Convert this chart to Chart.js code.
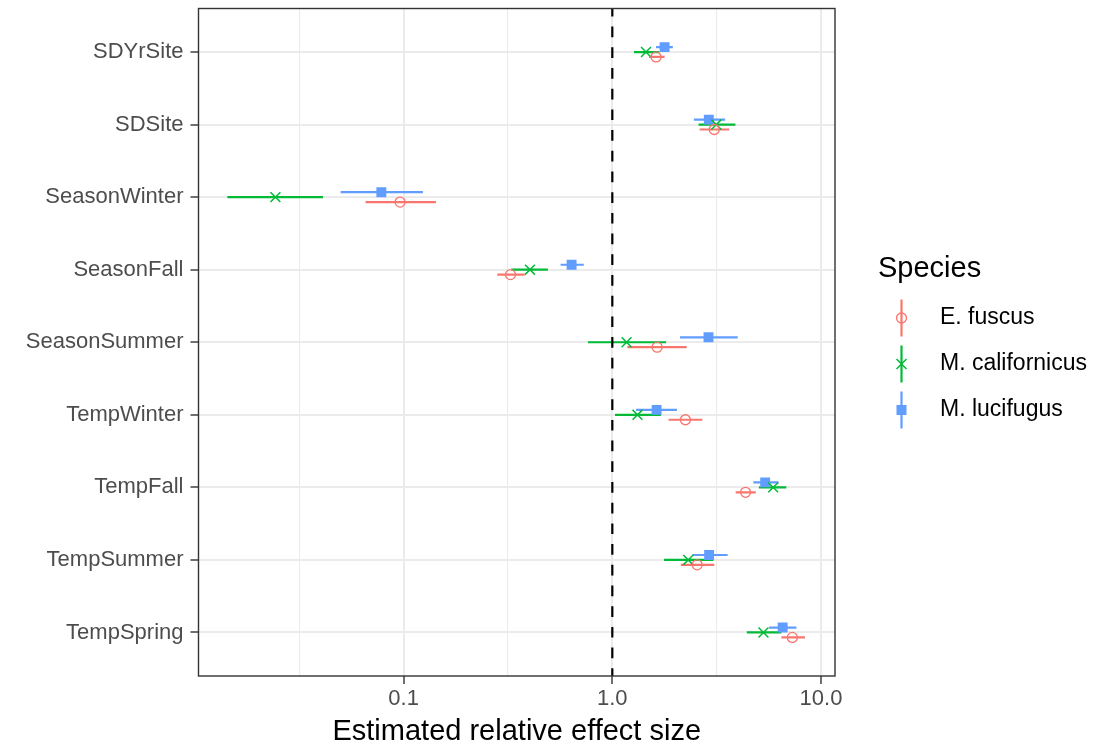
<!DOCTYPE html>
<html>
<head>
<meta charset="utf-8">
<script src="https://cdn.jsdelivr.net/npm/chart.js@4.4.1/dist/chart.umd.min.js"></script>
<style>
  html, body { margin: 0; padding: 0; background: #fff; }
  #wrap { width: 1106px; height: 746px; position: relative; }
</style>
</head>
<body>
<div id="wrap"><canvas id="chart"></canvas></div>
<script>
// effect sizes (log scale)
const categories = ["SDYrSite", "SDSite", "SeasonWinter", "SeasonFall", "SeasonSummer",
  "TempWinter", "TempFall", "TempSummer", "TempSpring"];

const speciesNames = ["E. fuscus", "M. californicus", "M. lucifugus"];

const fuscusEst = [1.62, 3.08, 0.0962, 0.325, 1.64, 2.24, 4.35, 2.55, 7.29];
const fuscusLo  = [1.50, 2.62, 0.0657, 0.281, 1.18, 1.86, 3.90, 2.13, 6.46];
const fuscusHi  = [1.78, 3.63, 0.1428, 0.380, 2.27, 2.70, 4.87, 3.08, 8.38];

const californicusEst = [1.45, 3.15, 0.0243, 0.403, 1.17, 1.32, 5.90, 2.31, 5.30];
const californicusLo  = [1.27, 2.59, 0.0143, 0.328, 0.764, 1.03, 5.04, 1.77, 4.41];
const californicusHi  = [1.68, 3.89, 0.0411, 0.491, 1.81, 1.71, 6.82, 3.05, 6.46];

const lucifugusEst = [1.78, 2.90, 0.0782, 0.638, 2.89, 1.63, 5.40, 2.91, 6.55];
const lucifugusLo  = [1.62, 2.46, 0.0499, 0.565, 2.11, 1.30, 4.74, 2.42, 5.64];
const lucifugusHi  = [1.95, 3.47, 0.1237, 0.730, 3.99, 2.04, 6.26, 3.57, 7.63];

const xTickValues = [0.1, 1, 10];
const xTickLabels = ["0.1", "1.0", "10.0"];
const xMinorValues = [0.0316, 0.316, 3.16];
const refValue = 1;

const FONT = "'Liberation Sans', Arial, Helvetica, sans-serif";
Chart.defaults.font.family = FONT;

// dodge: blue on top, red below
const series = [
  { name: speciesNames[0], est: fuscusEst, lo: fuscusLo, hi: fuscusHi, color: "#F8766D", shape: "circle", offset: 0.068 },
  { name: speciesNames[1], est: californicusEst, lo: californicusLo, hi: californicusHi, color: "#00BA38", shape: "cross", offset: 0 },
  { name: speciesNames[2], est: lucifugusEst, lo: lucifugusLo, hi: lucifugusHi, color: "#619CFF", shape: "square", offset: -0.068 }
];

function isMajor(v) {
  return xTickValues.some(t => Math.abs(Math.log10(v) - Math.log10(t)) < 1e-6);
}

function drawMarker(ctx, shape, color, x, y) {
  ctx.save();
  ctx.strokeStyle = color;
  ctx.fillStyle = color;
  if (shape === "circle") {
    ctx.lineWidth = 1.3;
    ctx.beginPath();
    ctx.arc(x, y, 5, 0, Math.PI * 2);
    ctx.stroke();
  } else if (shape === "cross") {
    ctx.lineWidth = 1.5;
    ctx.beginPath();
    ctx.moveTo(x - 5, y - 5); ctx.lineTo(x + 5, y + 5);
    ctx.moveTo(x - 5, y + 5); ctx.lineTo(x + 5, y - 5);
    ctx.stroke();
  } else {
    ctx.fillRect(x - 5, y - 5, 10, 10);
  }
  ctx.restore();
}

const errorBars = {
  id: "errorBars",
  beforeDatasetsDraw(chart) {
    const { ctx, chartArea, scales: { x, y } } = chart;
    ctx.save();
    ctx.beginPath();
    ctx.rect(chartArea.left, chartArea.top, chartArea.right - chartArea.left, chartArea.bottom - chartArea.top);
    ctx.clip();
    series.forEach(s => {
      ctx.strokeStyle = s.color;
      ctx.lineWidth = 2.2;
      s.lo.forEach((lo, i) => {
        const py = y.getPixelForValue(i + s.offset);
        ctx.beginPath();
        ctx.moveTo(x.getPixelForValue(lo), py);
        ctx.lineTo(x.getPixelForValue(s.hi[i]), py);
        ctx.stroke();
      });
    });
    ctx.restore();
  },
  afterDatasetsDraw(chart) {
    const { ctx, chartArea, scales: { x } } = chart;
    const px = x.getPixelForValue(refValue);
    ctx.save();
    ctx.strokeStyle = "#000";
    ctx.lineWidth = 2.2;
    ctx.setLineDash([10.7, 10]);
    ctx.lineDashOffset = 3;
    ctx.beginPath();
    ctx.moveTo(px, chartArea.bottom);
    ctx.lineTo(px, chartArea.top);
    ctx.stroke();
    ctx.setLineDash([]);
    ctx.strokeStyle = "#333333";
    ctx.lineWidth = 1.4;
    ctx.strokeRect(chartArea.left, chartArea.top, chartArea.right - chartArea.left, chartArea.bottom - chartArea.top);
    ctx.restore();
  }
};

const speciesLegend = {
  id: "speciesLegend",
  afterDraw(chart) {
    const ctx = chart.ctx;
    ctx.save();
    ctx.fillStyle = "#000";
    ctx.font = "29px " + FONT;
    ctx.textBaseline = "alphabetic";
    ctx.textAlign = "left";
    ctx.fillText("Species", 878, 277);
    const rows = [318, 364, 410];
    series.forEach((s, i) => {
      const cy = rows[i];
      ctx.strokeStyle = s.color;
      ctx.lineWidth = 2.2;
      ctx.beginPath();
      ctx.moveTo(901.5, cy - 18.5);
      ctx.lineTo(901.5, cy + 18.5);
      ctx.stroke();
      drawMarker(ctx, s.shape, s.color, 901.5, cy);
      ctx.fillStyle = "#000";
      ctx.font = "23px " + FONT;
      ctx.textBaseline = "middle";
      ctx.fillText(s.name, 940, cy);
    });
    ctx.restore();
  }
};

new Chart(document.getElementById("chart"), {
  type: "scatter",
  data: {
    datasets: series.map(s => ({
      label: s.name,
      data: s.est.map((v, i) => ({ x: v, y: i + s.offset })),
      pointStyle: s.shape === "circle" ? "circle" : (s.shape === "cross" ? "crossRot" : "rect"),
      pointRadius: s.shape === "circle" ? 5 : 7,
      pointBorderWidth: s.shape === "circle" ? 1.3 : (s.shape === "cross" ? 1.5 : 0),
      borderColor: s.color,
      backgroundColor: s.shape === "square" ? s.color : "rgba(0,0,0,0)",
      pointHoverRadius: 0
    }))
  },
  options: {
    responsive: true,
    maintainAspectRatio: false,
    animation: false,
    layout: { padding: { top: 8, right: 271, bottom: 0, left: 0 } },
    plugins: { legend: { display: false }, tooltip: { enabled: false } },
    scales: {
      x: {
        type: "logarithmic",
        min: 0.0104,
        max: 11.67,
        afterBuildTicks: scale => {
          scale.ticks = [...xMinorValues, ...xTickValues].sort((a, b) => a - b).map(v => ({ value: v }));
        },
        afterFit: scale => {
          scale.height = 70;
          scale.paddingLeft = 0;
          scale.paddingRight = 0;
        },
        ticks: {
          autoSkip: false,
          maxRotation: 0,
          padding: 2,
          color: "#4d4d4d",
          font: { size: 22 },
          callback: value => {
            const k = xTickValues.findIndex(t => Math.abs(Math.log10(t) - Math.log10(value)) < 1e-6);
            return k >= 0 ? xTickLabels[k] : "";
          }
        },
        grid: {
          color: "#ebebeb",
          lineWidth: c => (c.tick && isMajor(c.tick.value)) ? 2 : 1.1,
          tickLength: 8,
          tickWidth: 1.4,
          tickColor: c => (c.tick && isMajor(c.tick.value)) ? "#333333" : "rgba(0,0,0,0)"
        },
        border: { display: false },
        title: {
          display: true,
          text: "Estimated relative effect size",
          color: "#000",
          font: { size: 29, lineHeight: 1 },
          padding: { top: 0, bottom: 0 }
        }
      },
      y: {
        type: "linear",
        reverse: true,
        min: -0.6,
        max: 8.6,
        afterBuildTicks: scale => {
          scale.ticks = categories.map((c, i) => ({ value: i }));
        },
        afterFit: scale => {
          scale.width = 198.5;
          scale.paddingTop = 0;
          scale.paddingBottom = 0;
        },
        ticks: {
          autoSkip: false,
          padding: 7,
          color: "#4d4d4d",
          font: { size: 22 },
          callback: value => categories[Math.round(value)]
        },
        grid: {
          color: "#ebebeb",
          lineWidth: 2,
          tickLength: 8,
          tickWidth: 1.4,
          tickColor: "#333333"
        },
        border: { display: false }
      }
    }
  },
  plugins: [errorBars, speciesLegend]
});
</script>
</body>
</html>
